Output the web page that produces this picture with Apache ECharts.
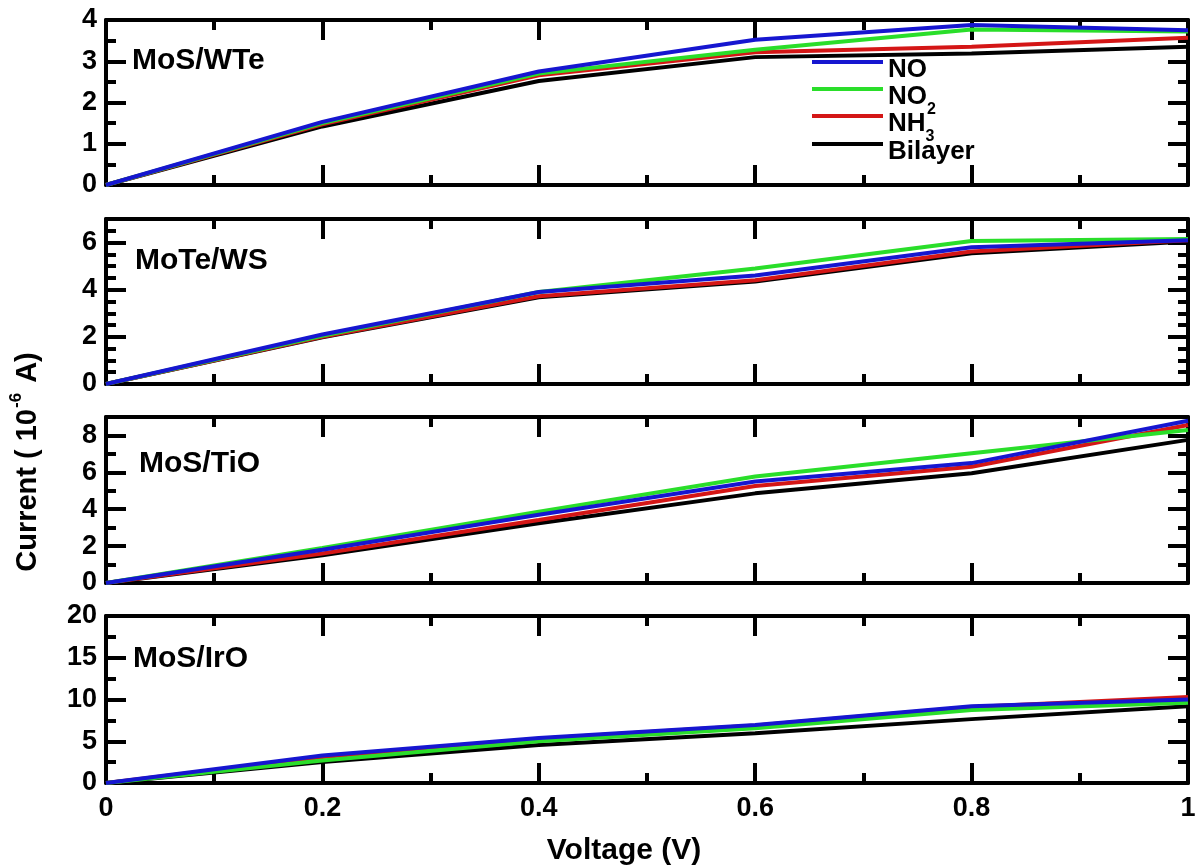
<!DOCTYPE html>
<html>
<head>
<meta charset="utf-8">
<script src="https://cdn.jsdelivr.net/npm/echarts@6/dist/echarts.min.js"></script>
<style>
  html, body { margin: 0; padding: 0; background: #ffffff; }
  #chart { width: 1200px; height: 865px; }
</style>
</head>
<body>
<div id="chart"></div>
<script>
// Bias voltage (V)
const voltage = [0, 0.2, 0.4, 0.6, 0.8, 1.0];

const panelTitles = ['MoS/WTe', 'MoTe/WS', 'MoS/TiO', 'MoS/IrO'];
const seriesNames = ['NO', 'NO2', 'NH3', 'Bilayer'];

// Current (10^-6 A), MoS/WTe
const wteNO      = [0, 1.53, 2.75, 3.52, 3.88, 3.75];
const wteNO2     = [0, 1.50, 2.70, 3.28, 3.77, 3.72];
const wteNH3     = [0, 1.47, 2.66, 3.22, 3.35, 3.57];
const wteBilayer = [0, 1.42, 2.52, 3.10, 3.19, 3.35];

// Current (10^-6 A), MoTe/WS
const mteNO      = [0, 2.10, 3.90, 4.60, 5.80, 6.10];
const mteNO2     = [0, 2.05, 3.90, 4.90, 6.07, 6.15];
const mteNH3     = [0, 2.00, 3.72, 4.40, 5.62, 6.10];
const mteBilayer = [0, 1.98, 3.68, 4.35, 5.55, 6.05];

// Current (10^-6 A), MoS/TiO
const tioNO      = [0, 1.80, 3.70, 5.50, 6.50, 8.80];
const tioNO2     = [0, 1.90, 3.87, 5.77, 7.03, 8.30];
const tioNH3     = [0, 1.60, 3.42, 5.26, 6.30, 8.57];
const tioBilayer = [0, 1.50, 3.24, 4.86, 5.95, 7.76];

// Current (10^-6 A), MoS/IrO
const iroNO      = [0, 3.30, 5.40, 6.95, 9.20, 10.0];
const iroNO2     = [0, 2.70, 5.00, 6.55, 8.75, 9.60];
const iroNH3     = [0, 3.10, 5.30, 6.90, 9.10, 10.3];
const iroBilayer = [0, 2.50, 4.55, 5.95, 7.65, 9.20];

// Y axis ranges and tick steps per panel
const yMax       = [4, 7, 9, 20];
const yMajorStep = [1, 2, 2, 5];
const yMinorStep = [0.5, 0.5, 1, 2.5];

const panels = [
  { NO: wteNO, NO2: wteNO2, NH3: wteNH3, Bilayer: wteBilayer },
  { NO: mteNO, NO2: mteNO2, NH3: mteNH3, Bilayer: mteBilayer },
  { NO: tioNO, NO2: tioNO2, NH3: tioNH3, Bilayer: tioBilayer },
  { NO: iroNO, NO2: iroNO2, NH3: iroNH3, Bilayer: iroBilayer }
];

// ---- layout & style ----
const FONT = "'Liberation Sans', Arial, sans-serif";
const colors = { NO: '#1616d0', NO2: '#2ade2a', NH3: '#d41616', Bilayer: '#000000' };
const drawOrder = ['Bilayer', 'NH3', 'NO2', 'NO'];
const gridLeft = 106, gridWidth = 1082;
const gridTop = [20, 219, 417, 616];
const gridHeight = [165, 165, 166, 167];
const titlePos = [[132, 61], [135, 261], [139, 464], [133, 659]];
const legendRowY = [70, 97, 124, 152];

const stroke = { color: '#000', width: 4 };
const grid = [], xAxis = [], yAxis = [], series = [];

panels.forEach((p, i) => {
  grid.push({ left: gridLeft, width: gridWidth, top: gridTop[i], height: gridHeight[i] });

  const xCommon = {
    type: 'value', gridIndex: i, min: 0, max: 1, interval: 0.2,
    axisLine: { show: true, onZero: false, lineStyle: stroke },
    axisTick: { show: true, inside: true, length: 20, lineStyle: stroke },
    minorTick: { show: true, splitNumber: 2, length: 10, lineStyle: stroke },
    splitLine: { show: false }, minorSplitLine: { show: false }
  };
  xAxis.push(Object.assign({}, xCommon, {
    position: 'bottom',
    axisLabel: { show: i === 3, margin: 12, fontSize: 27, fontWeight: 'bold', color: '#000', fontFamily: FONT }
  }));
  xAxis.push(Object.assign({}, xCommon, { position: 'top', axisLabel: { show: false } }));

  const yCommon = {
    type: 'value', gridIndex: i, min: 0, max: yMax[i],
    splitLine: { show: false }
  };
  const showTop = yMax[i] % yMajorStep[i] === 0;
  // left: labelled major ticks
  yAxis.push(Object.assign({}, yCommon, {
    position: 'left', interval: yMajorStep[i],
    axisLine: { show: true, onZero: false, lineStyle: stroke },
    axisTick: { show: true, inside: true, length: 20, lineStyle: stroke },
    axisLabel: { show: true, margin: 9, fontSize: 27, fontWeight: 'bold', color: '#000', fontFamily: FONT,
                 showMaxLabel: showTop, showMinLabel: true }
  }));
  // left: minor ticks
  yAxis.push(Object.assign({}, yCommon, {
    position: 'left', interval: yMinorStep[i],
    axisLine: { show: false, onZero: false },
    axisTick: { show: true, inside: true, length: 10, lineStyle: stroke },
    axisLabel: { show: false }
  }));
  // right: mirrored major ticks
  yAxis.push(Object.assign({}, yCommon, {
    position: 'right', interval: yMajorStep[i],
    axisLine: { show: true, onZero: false, lineStyle: stroke },
    axisTick: { show: true, inside: true, length: 20, lineStyle: stroke },
    axisLabel: { show: false }
  }));
  // right: mirrored minor ticks
  yAxis.push(Object.assign({}, yCommon, {
    position: 'right', interval: yMinorStep[i],
    axisLine: { show: false, onZero: false },
    axisTick: { show: true, inside: true, length: 10, lineStyle: stroke },
    axisLabel: { show: false }
  }));

  drawOrder.forEach(name => {
    series.push({
      name: name, type: 'line',
      xAxisIndex: 2 * i, yAxisIndex: 4 * i,
      data: voltage.map((v, k) => [v, p[name][k]]),
      symbol: 'none', smooth: false, silent: true,
      lineStyle: { color: colors[name], width: 4 },
      itemStyle: { color: colors[name] }
    });
  });
});

// legend entries with chemical subscripts
const legendText = { NO: '{a|NO}', NO2: '{a|NO}{s|2}', NH3: '{a|NH}{s|3}', Bilayer: '{a|Bilayer}' };
const legendRich = {
  a: { fontSize: 26, fontWeight: 'bold', fontFamily: FONT, color: '#000', lineHeight: 26,
       padding: [8, 0, 8, 0], verticalAlign: 'top' },
  s: { fontSize: 16, fontWeight: 'bold', fontFamily: FONT, color: '#000', lineHeight: 16,
       padding: [26, 0, 0, 0], verticalAlign: 'top' }
};
const legend = seriesNames.map((name, k) => ({
  data: [name], orient: 'vertical', left: 812, top: legendRowY[k] - 21,
  padding: 0, itemGap: 0, itemWidth: 71, itemHeight: 4, icon: 'rect', selectedMode: false,
  formatter: n => legendText[n],
  textStyle: { rich: legendRich }
}));

const graphic = panelTitles.map((t, i) => ({
  type: 'text', x: titlePos[i][0], y: titlePos[i][1], silent: true,
  style: { text: t, font: 'bold 30px ' + FONT, fill: '#000', align: 'left', verticalAlign: 'middle' }
}));
graphic.push({
  type: 'text', x: 624, y: 851, silent: true,
  style: { text: 'Voltage (V)', font: 'bold 30px ' + FONT, fill: '#000', align: 'center', verticalAlign: 'middle' }
});
graphic.push({
  type: 'text', x: 22, y: 462, rotation: Math.PI / 2, silent: true,
  style: {
    text: '{t|Current ( 10}{p|-6}{t| A)}', align: 'center', verticalAlign: 'middle',
    rich: {
      t: { fontSize: 29, fontWeight: 'bold', fontFamily: FONT, fill: '#000', lineHeight: 29, padding: [6, 0, 0, 0], verticalAlign: 'top' },
      p: { fontSize: 17, fontWeight: 'bold', fontFamily: FONT, fill: '#000', lineHeight: 17, padding: [0, 2, 18, 1], verticalAlign: 'top' }
    }
  }
});

const chart = echarts.init(document.getElementById('chart'), null, { renderer: 'canvas' });
chart.setOption({
  animation: false,
  backgroundColor: '#ffffff',
  grid, xAxis, yAxis, series, legend, graphic
});
</script>
</body>
</html>
